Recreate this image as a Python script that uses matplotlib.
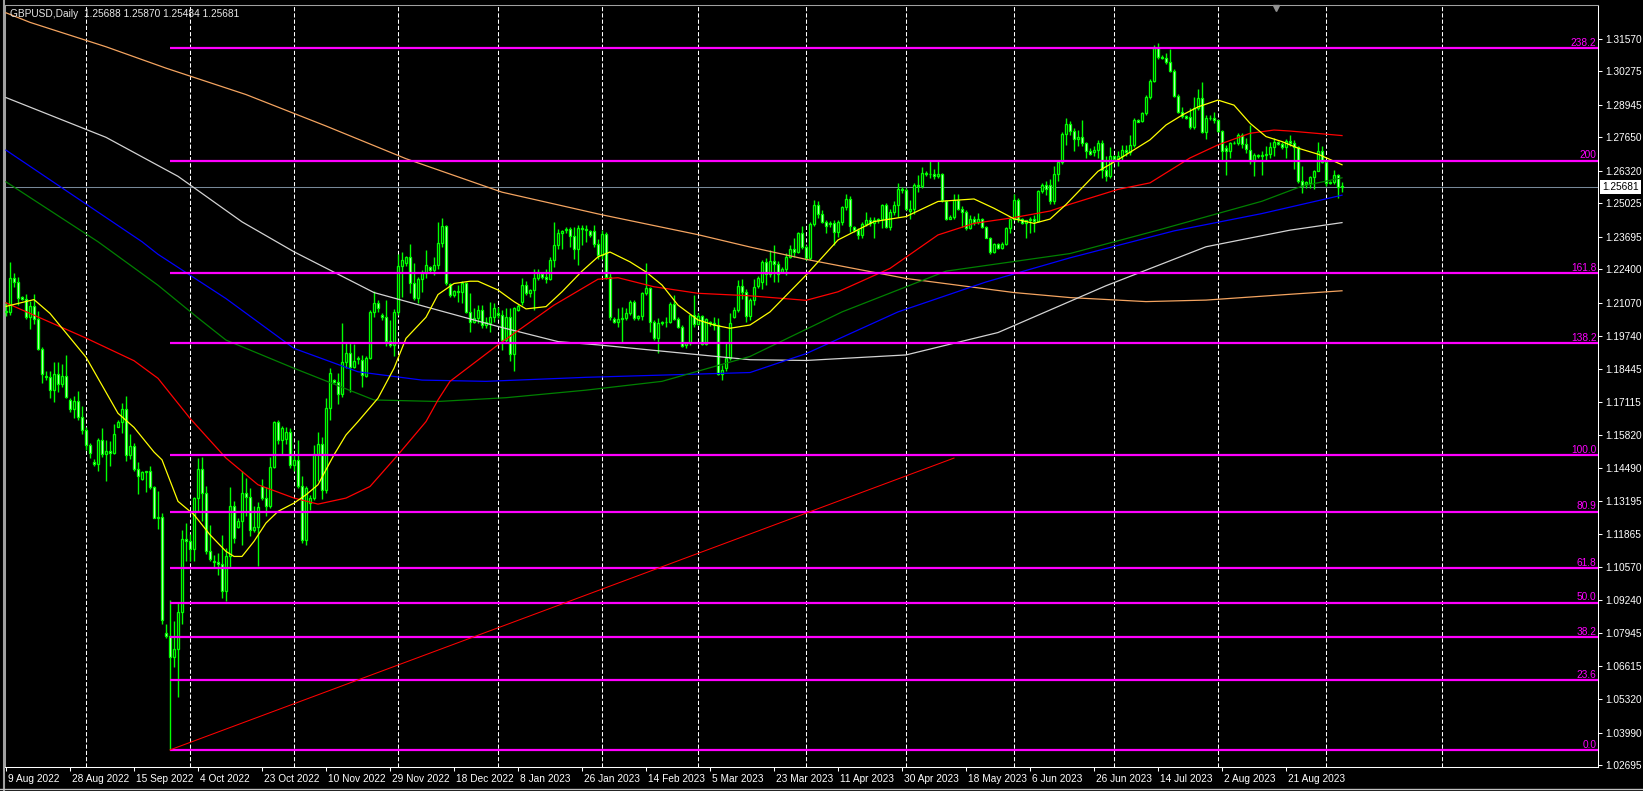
import matplotlib
matplotlib.use("Agg")
import matplotlib.pyplot as plt
import matplotlib.transforms as mtransforms
from matplotlib.lines import Line2D
import numpy as np
import pandas as pd

# GBPUSD daily, broker with Sunday bars, first bar 9 Aug 2022
opens = [
    1.2075, 1.2072, 1.2207, 1.2190, 1.2132, 1.2123, 1.2051, 1.2093, 1.2041, 1.1925,
    1.1817, 1.1811, 1.1761, 1.1825, 1.1783, 1.1817, 1.1722, 1.1685, 1.1715, 1.1654,
    1.1600, 1.1542, 1.1473, 1.1466, 1.1563, 1.1508, 1.1519, 1.1510, 1.1615, 1.1633,
    1.1686, 1.1501, 1.1538, 1.1448, 1.1406, 1.1434, 1.1438, 1.1375, 1.1253, 1.1257,
    1.0793, 1.0783, 1.0700, 1.0733, 1.0880, 1.1168, 1.1160, 1.1130, 1.1333, 1.1447,
    1.1350, 1.1119, 1.1082, 1.1075, 1.1068, 1.0960, 1.1099, 1.1298, 1.1218, 1.1238,
    1.1350, 1.1337, 1.1205, 1.1218, 1.1380, 1.1333, 1.1298, 1.1453, 1.1635, 1.1560,
    1.1565, 1.1593, 1.1463, 1.1483, 1.1380, 1.1166, 1.1310, 1.1331, 1.1507, 1.1545,
    1.1364, 1.1688, 1.1800, 1.1794, 1.1744, 1.1873, 1.1909, 1.1851, 1.1884, 1.1880,
    1.1818, 1.1886, 1.2072, 1.2107, 1.2060, 1.2050, 1.1955, 1.1940, 1.2072, 1.2253,
    1.2265, 1.2290, 1.2184, 1.2125, 1.2201, 1.2224, 1.2250, 1.2238, 1.2259, 1.2346,
    1.2411, 1.2180, 1.2138, 1.2155, 1.2150, 1.2184, 1.2072, 1.2032, 1.2046, 1.2079,
    1.2019, 1.2025, 1.2052, 1.2065, 1.2059, 1.1960, 1.2052, 1.1903, 1.2080, 1.2112,
    1.2178, 1.2145, 1.2158, 1.2207, 1.2220, 1.2210, 1.2201, 1.2276, 1.2336, 1.2385,
    1.2395, 1.2399, 1.2371, 1.2323, 1.2406, 1.2402, 1.2393, 1.2393, 1.2342, 1.2299,
    1.2379, 1.2210, 1.2042, 1.2030, 1.2042, 1.2046, 1.2065, 1.2112, 1.2048, 1.2056,
    1.2147, 1.2168, 1.2032, 1.1966, 1.2026, 1.2032, 1.2030, 1.2102, 1.2042, 1.2013,
    1.1940, 1.1947, 1.2059, 1.2022, 1.2056, 1.1943, 1.2030, 1.2026, 1.2019, 1.1824,
    1.1848, 1.1887, 1.2052, 1.2079, 1.2174, 1.2150, 1.2055, 1.2118, 1.2174, 1.2190,
    1.2270, 1.2220, 1.2273, 1.2262, 1.2230, 1.2240, 1.2290, 1.2323, 1.2310, 1.2383,
    1.2330, 1.2285, 1.2419, 1.2494, 1.2460, 1.2430, 1.2420, 1.2425, 1.2390, 1.2428,
    1.2488, 1.2521, 1.2410, 1.2395, 1.2375, 1.2419, 1.2437, 1.2425, 1.2437, 1.2440,
    1.2494, 1.2410, 1.2467, 1.2494, 1.2560, 1.2554, 1.2473, 1.2482, 1.2576, 1.2570,
    1.2625, 1.2618, 1.2620, 1.2610, 1.2620, 1.2510, 1.2441, 1.2450, 1.2516, 1.2480,
    1.2470, 1.2405, 1.2440, 1.2430, 1.2440, 1.2410, 1.2366, 1.2310, 1.2340, 1.2325,
    1.2340, 1.2403, 1.2441, 1.2516, 1.2440, 1.2425, 1.2435, 1.2440, 1.2432, 1.2552,
    1.2574, 1.2575, 1.2510, 1.2620, 1.2666, 1.2778, 1.2818, 1.2790, 1.2760, 1.2765,
    1.2742, 1.2711, 1.2705, 1.2715, 1.2744, 1.2636, 1.2610, 1.2689, 1.2680, 1.2692,
    1.2715, 1.2705, 1.2735, 1.2834, 1.2830, 1.2860, 1.2926, 1.2988, 1.3119, 1.3083,
    1.3080, 1.3065, 1.3027, 1.2930, 1.2864, 1.2850, 1.2845, 1.2808, 1.2880, 1.2922,
    1.2788, 1.2843, 1.2840, 1.2832, 1.2790, 1.2724, 1.2711, 1.2744, 1.2742, 1.2774,
    1.2738, 1.2715, 1.2670, 1.2693, 1.2689, 1.2696, 1.2700, 1.2725, 1.2748, 1.2740,
    1.2728, 1.2750, 1.2744, 1.2725, 1.2590, 1.2578, 1.2585, 1.2606, 1.2633, 1.2709,
    1.2667, 1.2584, 1.2588, 1.2617, 1.25688,
]
highs = [
    1.2110, 1.2271, 1.2225, 1.2211, 1.2135, 1.2141, 1.2114, 1.2141, 1.2076, 1.1932,
    1.1835, 1.1835, 1.1873, 1.1870, 1.1863, 1.1898, 1.1728, 1.1737, 1.1758, 1.1696,
    1.1615, 1.1549, 1.1487, 1.1570, 1.1608, 1.1563, 1.1556, 1.1626, 1.1643, 1.1707,
    1.1735, 1.1587, 1.1549, 1.1475, 1.1438, 1.1440, 1.1459, 1.1378, 1.1361, 1.1271,
    1.0832, 1.0927, 1.0843, 1.0915, 1.1205, 1.1232, 1.1189, 1.1336, 1.1490, 1.1494,
    1.1380, 1.1222, 1.1106, 1.1113, 1.1185, 1.1133, 1.1377, 1.1318, 1.1251, 1.1437,
    1.1410, 1.1370, 1.1298, 1.1314, 1.1406, 1.1377, 1.1496, 1.1638, 1.1642, 1.1619,
    1.1615, 1.1609, 1.1503, 1.1562, 1.1417, 1.1380, 1.1344, 1.1540, 1.1595, 1.1575,
    1.1728, 1.1847, 1.1804, 1.1827, 1.2025, 1.1946, 1.1953, 1.1942, 1.1895, 1.1900,
    1.1895, 1.2078, 1.2153, 1.2118, 1.2065, 1.2118, 1.2039, 1.2083, 1.2303, 1.2310,
    1.2295, 1.2339, 1.2264, 1.2211, 1.2237, 1.2316, 1.2255, 1.2290, 1.2428, 1.2444,
    1.2415, 1.2184, 1.2160, 1.2178, 1.2193, 1.2191, 1.2145, 1.2085, 1.2098, 1.2098,
    1.2052, 1.2112, 1.2105, 1.2092, 1.2079, 1.2085, 1.2085, 1.2092, 1.2101, 1.2207,
    1.2193, 1.2164, 1.2241, 1.2243, 1.2230, 1.2243, 1.2290, 1.2428, 1.2402, 1.2395,
    1.2408, 1.2408, 1.2408, 1.2415, 1.2415, 1.2415, 1.2398, 1.2415, 1.2362, 1.2395,
    1.2388, 1.2225, 1.2050, 1.2085, 1.2092, 1.2085, 1.2118, 1.2118, 1.2058, 1.2151,
    1.2266, 1.2171, 1.2039, 1.2046, 1.2036, 1.2050, 1.2112, 1.2138, 1.2052, 1.2019,
    1.1953, 1.2061, 1.2138, 1.2065, 1.2060, 1.2046, 1.2035, 1.2050, 1.2046, 1.1861,
    1.1947, 1.2066, 1.2092, 1.2197, 1.2203, 1.2164, 1.2125, 1.2203, 1.2215, 1.2277,
    1.2284, 1.2317, 1.2337, 1.2273, 1.2250, 1.2307, 1.2337, 1.2363, 1.2390, 1.2414,
    1.2337, 1.2430, 1.2516, 1.2510, 1.2477, 1.2437, 1.2432, 1.2437, 1.2437, 1.2493,
    1.2539, 1.2530, 1.2412, 1.2403, 1.2430, 1.2470, 1.2450, 1.2450, 1.2445, 1.2500,
    1.2503, 1.2480, 1.2510, 1.2583, 1.2566, 1.2563, 1.2515, 1.2583, 1.2616, 1.2649,
    1.2632, 1.2669, 1.2640, 1.2676, 1.2623, 1.2515, 1.2455, 1.2539, 1.2540, 1.2492,
    1.2476, 1.2457, 1.2452, 1.2465, 1.2446, 1.2414, 1.2370, 1.2343, 1.2345, 1.2350,
    1.2410, 1.2450, 1.2539, 1.2523, 1.2444, 1.2437, 1.2450, 1.2457, 1.2556, 1.2583,
    1.2590, 1.2600, 1.2650, 1.2674, 1.2788, 1.2840, 1.2830, 1.2801, 1.2794, 1.2834,
    1.2748, 1.2722, 1.2730, 1.2755, 1.2755, 1.2689, 1.2725, 1.2695, 1.2709, 1.2735,
    1.2735, 1.2775, 1.2840, 1.2838, 1.2867, 1.2932, 1.2995, 1.3132, 1.3140, 1.3092,
    1.3101, 1.3116, 1.3035, 1.2939, 1.2886, 1.2854, 1.2880, 1.2926, 1.2957, 1.2985,
    1.2853, 1.2853, 1.2864, 1.2834, 1.2794, 1.2735, 1.2748, 1.2752, 1.2781, 1.2781,
    1.2761, 1.2814, 1.2702, 1.2698, 1.2709, 1.2729, 1.2748, 1.2761, 1.2752, 1.2745,
    1.2759, 1.2775, 1.2755, 1.2731, 1.2650, 1.2593, 1.2610, 1.2637, 1.2746, 1.2729,
    1.2669, 1.2590, 1.2636, 1.2620, 1.25870,
]
lows = [
    1.2053, 1.2058, 1.2169, 1.2100, 1.2118, 1.2044, 1.2002, 1.2023, 1.1918, 1.1790,
    1.1800, 1.1730, 1.1712, 1.1751, 1.1772, 1.1730, 1.1672, 1.1650, 1.1640, 1.1587,
    1.1521, 1.1489, 1.1459, 1.1438, 1.1494, 1.1399, 1.1459, 1.1508, 1.1612, 1.1591,
    1.1480, 1.1487, 1.1438, 1.1347, 1.1403, 1.1354, 1.1368, 1.1250, 1.1208, 1.0832,
    1.0776, 1.0330, 1.0658, 1.0539, 1.0830, 1.1079, 1.1082, 1.1082, 1.1281, 1.1238,
    1.1110, 1.1082, 1.1053, 1.1027, 1.0934, 1.0921, 1.1053, 1.1152, 1.1212, 1.1146,
    1.1258, 1.1179, 1.1198, 1.1060, 1.1325, 1.1258, 1.1291, 1.1450, 1.1545, 1.1503,
    1.1545, 1.1450, 1.1437, 1.1371, 1.1153, 1.1143, 1.1285, 1.1325, 1.1397, 1.1328,
    1.1351, 1.1642, 1.1790, 1.1704, 1.1734, 1.1847, 1.1754, 1.1847, 1.1865, 1.1771,
    1.1814, 1.1882, 1.2052, 1.2072, 1.2040, 1.1935, 1.1933, 1.1895, 1.2058, 1.2131,
    1.2255, 1.2145, 1.2119, 1.2108, 1.2151, 1.2205, 1.2228, 1.2217, 1.2243, 1.2331,
    1.2177, 1.2131, 1.2130, 1.2112, 1.2105, 1.2065, 1.1993, 1.2026, 1.2026, 1.2006,
    1.2006, 1.1993, 1.2032, 1.2046, 1.1920, 1.1953, 1.1874, 1.1835, 1.2075, 1.2098,
    1.2138, 1.2131, 1.2079, 1.2197, 1.2200, 1.2184, 1.2197, 1.2250, 1.2323, 1.2323,
    1.2385, 1.2329, 1.2283, 1.2257, 1.2336, 1.2349, 1.2370, 1.2329, 1.2283, 1.2283,
    1.2200, 1.2040, 1.2025, 1.2013, 1.1953, 1.2039, 1.2059, 1.2039, 1.2040, 1.2039,
    1.2140, 1.1990, 1.1960, 1.1907, 1.2020, 1.2010, 1.2026, 1.2039, 1.2006, 1.1930,
    1.1927, 1.1940, 1.2013, 1.2019, 1.1940, 1.1940, 1.2015, 1.2000, 1.1821, 1.1802,
    1.1835, 1.1881, 1.2046, 1.2072, 1.2124, 1.2030, 1.2040, 1.2100, 1.2165, 1.2164,
    1.2177, 1.2210, 1.2190, 1.2191, 1.2225, 1.2217, 1.2284, 1.2290, 1.2304, 1.2321,
    1.2277, 1.2277, 1.2414, 1.2443, 1.2423, 1.2384, 1.2410, 1.2337, 1.2370, 1.2417,
    1.2478, 1.2390, 1.2390, 1.2361, 1.2363, 1.2414, 1.2414, 1.2363, 1.2425, 1.2405,
    1.2403, 1.2398, 1.2457, 1.2450, 1.2545, 1.2477, 1.2440, 1.2460, 1.2549, 1.2565,
    1.2612, 1.2603, 1.2600, 1.2603, 1.2509, 1.2437, 1.2440, 1.2441, 1.2477, 1.2410,
    1.2397, 1.2400, 1.2418, 1.2420, 1.2403, 1.2363, 1.2300, 1.2306, 1.2320, 1.2320,
    1.2337, 1.2383, 1.2437, 1.2430, 1.2420, 1.2363, 1.2383, 1.2390, 1.2428, 1.2543,
    1.2536, 1.2500, 1.2500, 1.2590, 1.2660, 1.2735, 1.2775, 1.2709, 1.2729, 1.2729,
    1.2683, 1.2696, 1.2690, 1.2683, 1.2604, 1.2590, 1.2604, 1.2675, 1.2650, 1.2676,
    1.2689, 1.2693, 1.2728, 1.2824, 1.2825, 1.2853, 1.2919, 1.2985, 1.3077, 1.3075,
    1.3057, 1.3024, 1.2926, 1.2860, 1.2843, 1.2838, 1.2800, 1.2800, 1.2873, 1.2781,
    1.2759, 1.2834, 1.2820, 1.2788, 1.2676, 1.2617, 1.2683, 1.2738, 1.2735, 1.2722,
    1.2702, 1.2660, 1.2610, 1.2683, 1.2615, 1.2672, 1.2683, 1.2689, 1.2735, 1.2720,
    1.2683, 1.2729, 1.2640, 1.2584, 1.2545, 1.2564, 1.2564, 1.2558, 1.2630, 1.2663,
    1.2571, 1.2580, 1.2578, 1.2525, 1.25484,
]
closes = [
    1.2072, 1.2207, 1.2190, 1.2127, 1.2123, 1.2051, 1.2093, 1.2041, 1.1925, 1.1825,
    1.1811, 1.1761, 1.1825, 1.1783, 1.1817, 1.1733, 1.1685, 1.1715, 1.1654, 1.1600,
    1.1542, 1.1510, 1.1466, 1.1563, 1.1508, 1.1519, 1.1510, 1.1584, 1.1633, 1.1686,
    1.1501, 1.1538, 1.1448, 1.1420, 1.1434, 1.1438, 1.1375, 1.1253, 1.1257, 1.0846,
    1.0783, 1.0700, 1.0733, 1.0880, 1.1168, 1.1160, 1.1130, 1.1333, 1.1447, 1.1350,
    1.1119, 1.1090, 1.1075, 1.1068, 1.0960, 1.1099, 1.1298, 1.1172, 1.1238, 1.1350,
    1.1337, 1.1205, 1.1218, 1.1294, 1.1333, 1.1298, 1.1453, 1.1635, 1.1560, 1.1609,
    1.1593, 1.1463, 1.1483, 1.1380, 1.1166, 1.1373, 1.1331, 1.1507, 1.1545, 1.1364,
    1.1688, 1.1827, 1.1794, 1.1744, 1.1873, 1.1909, 1.1851, 1.1876, 1.1889, 1.1820,
    1.1886, 1.2072, 1.2107, 1.2088, 1.2050, 1.1955, 1.1940, 1.2072, 1.2253, 1.2276,
    1.2290, 1.2184, 1.2125, 1.2201, 1.2224, 1.2257, 1.2238, 1.2259, 1.2346, 1.2411,
    1.2184, 1.2138, 1.2155, 1.2150, 1.2184, 1.2072, 1.2032, 1.2048, 1.2079, 1.2019,
    1.2030, 1.2052, 1.2085, 1.2059, 1.1960, 1.2052, 1.1903, 1.2088, 1.2096, 1.2178,
    1.2145, 1.2158, 1.2207, 1.2230, 1.2210, 1.2201, 1.2276, 1.2336, 1.2385, 1.2391,
    1.2399, 1.2373, 1.2323, 1.2406, 1.2402, 1.2395, 1.2375, 1.2342, 1.2299, 1.2379,
    1.2210, 1.2050, 1.2030, 1.2042, 1.2046, 1.2065, 1.2112, 1.2046, 1.2056, 1.2147,
    1.2168, 1.2032, 1.1966, 1.2026, 1.2032, 1.2030, 1.2102, 1.2042, 1.2013, 1.1937,
    1.1947, 1.2059, 1.2022, 1.2056, 1.1943, 1.2042, 1.2026, 1.2019, 1.1824, 1.1840,
    1.1887, 1.2026, 1.2079, 1.2174, 1.2150, 1.2055, 1.2118, 1.2170, 1.2205, 1.2270,
    1.2220, 1.2273, 1.2262, 1.2220, 1.2240, 1.2290, 1.2323, 1.2310, 1.2383, 1.2330,
    1.2285, 1.2419, 1.2494, 1.2460, 1.2430, 1.2412, 1.2425, 1.2390, 1.2428, 1.2488,
    1.2521, 1.2412, 1.2395, 1.2375, 1.2419, 1.2437, 1.2425, 1.2437, 1.2440, 1.2494,
    1.2410, 1.2467, 1.2494, 1.2560, 1.2554, 1.2480, 1.2482, 1.2576, 1.2570, 1.2625,
    1.2618, 1.2620, 1.2610, 1.2620, 1.2516, 1.2441, 1.2450, 1.2516, 1.2480, 1.2470,
    1.2405, 1.2440, 1.2430, 1.2440, 1.2410, 1.2366, 1.2310, 1.2340, 1.2325, 1.2340,
    1.2403, 1.2441, 1.2516, 1.2440, 1.2425, 1.2435, 1.2440, 1.2432, 1.2552, 1.2574,
    1.2560, 1.2510, 1.2620, 1.2666, 1.2778, 1.2818, 1.2790, 1.2760, 1.2765, 1.2742,
    1.2711, 1.2700, 1.2715, 1.2744, 1.2636, 1.2610, 1.2689, 1.2680, 1.2692, 1.2715,
    1.2705, 1.2735, 1.2834, 1.2826, 1.2860, 1.2926, 1.2988, 1.3119, 1.3083, 1.3080,
    1.3065, 1.3027, 1.2930, 1.2864, 1.2850, 1.2840, 1.2808, 1.2880, 1.2922, 1.2788,
    1.2843, 1.2840, 1.2832, 1.2790, 1.2711, 1.2711, 1.2744, 1.2742, 1.2774, 1.2738,
    1.2720, 1.2670, 1.2693, 1.2689, 1.2696, 1.2700, 1.2725, 1.2748, 1.2740, 1.2728,
    1.2750, 1.2744, 1.2725, 1.2590, 1.2572, 1.2588, 1.2606, 1.2633, 1.2709, 1.2667,
    1.2584, 1.2588, 1.2617, 1.2569, 1.25681,
]

# moving averages (bar index, price)
ma_yellow_bars = [0, 7, 11, 20, 28, 32, 37, 39, 43, 47, 51, 55, 57, 59, 62, 65, 68, 72, 75, 78,
                  82, 85, 88, 93, 97, 100, 105, 108, 112, 116, 118, 123, 127, 130, 135, 139, 144,
                  148, 151, 156, 160, 164, 168, 173, 177, 181, 186, 191, 200, 208, 217, 225, 233,
                  242, 247, 252, 257, 261, 265, 269, 273, 278, 286, 290, 294, 298, 303, 307, 311,
                  315, 319, 323, 328, 334]
ma_yellow = [1.2093, 1.2120, 1.2065, 1.1891, 1.1668, 1.1612, 1.1514, 1.1483, 1.1318, 1.1265,
             1.1185, 1.1119, 1.1099, 1.1099, 1.1159, 1.1232, 1.1278, 1.1311, 1.1344, 1.1384,
             1.1503, 1.1582, 1.1635, 1.1728, 1.1847, 1.1966, 1.2050, 1.2140, 1.2184, 1.2193,
             1.2193, 1.2158, 1.2112, 1.2083, 1.2092, 1.2151, 1.2233, 1.2290, 1.2309, 1.2270,
             1.2230, 1.2178, 1.2098, 1.2039, 1.2019, 1.2006, 1.2019, 1.2071, 1.2217, 1.2357,
             1.2430, 1.2450, 1.2510, 1.2520, 1.2483, 1.2441, 1.2423, 1.2440, 1.2498, 1.2564,
             1.2630, 1.2676, 1.2755, 1.2814, 1.2853, 1.2886, 1.2913, 1.2893, 1.2821, 1.2768,
             1.2748, 1.2722, 1.2698, 1.2656]
ma_red_bars = [0, 8, 20, 32, 38, 46, 55, 63, 72, 78, 85, 91, 98, 105, 108, 111, 123, 137, 148,
               153, 162, 173, 186, 200, 208, 221, 233, 242, 252, 261, 266, 278, 286, 296, 303,
               311, 317, 321, 334]
ma_red = [1.2107, 1.2051, 1.1967, 1.1877, 1.1807, 1.1648, 1.1490, 1.1384, 1.1331, 1.1307,
          1.1331, 1.1377, 1.1503, 1.1635, 1.1721, 1.1795, 1.1940, 1.2098, 1.2201, 1.2207,
          1.2171, 1.2145, 1.2135, 1.2117, 1.2151, 1.2244, 1.2377, 1.2423, 1.2446, 1.2472,
          1.2499, 1.2558, 1.2584, 1.2683, 1.2735, 1.2781, 1.2794, 1.2790, 1.2772]
ma_green_bars = [0, 23, 38, 48, 55, 72, 92, 108, 125, 145, 164, 186, 209, 235, 266, 288, 314, 324, 334]
ma_green = [1.2588, 1.2350, 1.2177, 1.2047, 1.1959, 1.1847, 1.1721, 1.1715, 1.1730, 1.1760,
            1.1795, 1.1894, 1.2071, 1.2233, 1.2303, 1.2396, 1.2511, 1.2571, 1.2604]
ma_blue_bars = [0, 34, 38, 55, 72, 88, 104, 120, 145, 173, 186, 200, 223, 245, 266, 292, 314, 334]
ma_blue = [1.2714, 1.2350, 1.2300, 1.2124, 1.1926, 1.1833, 1.1800, 1.1795, 1.1811, 1.1824,
           1.1830, 1.1905, 1.2071, 1.2190, 1.2286, 1.2393, 1.2462, 1.2535]
ma_white_bars = [0, 25, 43, 59, 72, 92, 108, 123, 138, 148, 173, 186, 200, 225, 248, 275, 300, 321, 334]
ma_white = [1.2923, 1.2765, 1.2610, 1.2429, 1.2310, 1.2148, 1.2078, 1.2013, 1.1953, 1.1940,
            1.1901, 1.1881, 1.1878, 1.1900, 1.1989, 1.2175, 1.2330, 1.2396, 1.2426]
ma_sand_bars = [0, 6, 25, 40, 60, 80, 100, 124, 149, 173, 186, 200, 225, 252, 266, 285, 300, 320, 334]
ma_sand = [1.3260, 1.3222, 1.3125, 1.3040, 1.2935, 1.2810, 1.2680, 1.2547, 1.2457, 1.2378,
           1.2329, 1.2280, 1.2204, 1.2148, 1.2128, 1.2112, 1.2118, 1.2140, 1.2155]

# fibonacci expansion anchored at the September low
fib_levels = [0.0, 23.6, 38.2, 50.0, 61.8, 80.9, 100.0, 138.2, 161.8, 200.0, 238.2]
fib_texts = ["0.0", "23.6", "38.2", "50.0", "61.8", "80.9", "100.0", "138.2", "161.8", "200", "238.2"]
fib_low = 1.0330
fib_high = 1.1501
fib_bar = 41

trend_bars = [41, 237]
trend_prices = [1.0330, 1.1490]

yticks = ["1.31570", "1.30275", "1.28945", "1.27650", "1.26320", "1.25025", "1.23695", "1.22400",
          "1.21070", "1.19740", "1.18445", "1.17115", "1.15820", "1.14490", "1.13195", "1.11865",
          "1.10570", "1.09240", "1.07945", "1.06615", "1.05320", "1.03990", "1.02695"]

holidays = ["2022-12-25", "2023-01-01", "2023-06-18"]

plt.rcParams['font.family'] = ['Liberation Sans', 'DejaVu Sans']
plt.rcParams['lines.scale_dashes'] = False

n = len(closes)
days = pd.bdate_range("2022-08-09", periods=n, freq="C",
                      weekmask="Sun Mon Tue Wed Thu Fri", holidays=holidays)
xmax = 398
# future part of the time scale runs one calendar day per bar
future = pd.date_range(days[-1], periods=xmax - n + 2, freq="D")[1:]
alldays = list(days) + list(future)
month_bars = [i for i in range(1, len(alldays)) if alldays[i].month != alldays[i - 1].month]
month_bars = [b for b in month_bars if b < 370]

W, H = 1643, 791
fig = plt.figure(figsize=(W / 100, H / 100), dpi=100, facecolor="black")
ax = fig.add_axes([5 / W, 1 - 767 / H, 1593 / W, 762 / H])
ax.set_facecolor("black")
ymin, ymax = 1.0262, 1.3291
ax.set_xlim(-0.25, xmax)
ax.set_ylim(ymin, ymax)

ax.vlines(month_bars, ymin, ymax, colors="white", lw=0.75,
          linestyles=(0, (3, 1.5)), zorder=1)
ax.axhline(closes[-1], color="#778899", lw=0.75, zorder=2)

o = np.array(opens)
h = np.array(highs)
l = np.array(lows)
c = np.array(closes)
x = np.arange(n)
ax.vlines(x, l, h, colors="#00ff00", lw=1.0, zorder=3)
fill = np.where(c >= o, "black", "white")
ax.bar(x, np.maximum(np.abs(c - o), 0.0002), width=0.5, bottom=np.minimum(o, c),
       color=fill, edgecolor="#00ff00", linewidth=0.95, zorder=4)

ax.plot(ma_sand_bars, ma_sand, color="#f4a460", lw=0.9, zorder=5)
ax.plot(ma_white_bars, ma_white, color="#d3d3d3", lw=0.9, zorder=5)
ax.plot(ma_blue_bars, ma_blue, color="#0000ff", lw=0.9, zorder=5)
ax.plot(ma_green_bars, ma_green, color="#008000", lw=0.9, zorder=5)
ax.plot(ma_red_bars, ma_red, color="#ff0000", lw=0.9, zorder=5)
ax.plot(ma_yellow_bars, ma_yellow, color="#ffff00", lw=0.9, zorder=5)

fib_prices = [fib_low + lv / 100 * (fib_high - fib_low) for lv in fib_levels]
ax.hlines(fib_prices, fib_bar, xmax, colors="#ff00ff", lw=1.6, zorder=6)
for p, t in zip(fib_prices, fib_texts):
    ax.text(397.6, p + 0.0009, t, color="#ff00ff", fontsize=7.3,
            ha="right", va="baseline", zorder=7)
ax.plot(trend_bars, trend_prices, color="#ff0000", lw=0.75, zorder=6)

# price scale on the right
ax.yaxis.tick_right()
ax.set_yticks([float(t) for t in yticks])
ax.set_yticklabels(yticks)
ax.tick_params(axis="y", colors="white", labelsize=7.3, length=3, width=0.75, pad=2)

label_bars = list(range(0, n, 16))
ax.set_xticks(label_bars)
ax.set_xticklabels([f"{days[i].day} {days[i]:%b %Y}" for i in label_bars])
ax.tick_params(axis="x", colors="white", labelsize=7.3, length=3, width=0.75, pad=2)
shift = mtransforms.ScaledTranslation(2 / 100, 0, fig.dpi_scale_trans)
for lab in ax.get_xticklabels():
    lab.set_ha("left")
    lab.set_transform(lab.get_transform() + shift)

for s in ["top", "left"]:
    ax.spines[s].set_color("#a0a0a0")
for s in ["right", "bottom"]:
    ax.spines[s].set_color("white")
for s in ax.spines.values():
    s.set_linewidth(0.75)

ax.annotate(f"{closes[-1]:.5f}", xy=(1, closes[-1]), xycoords=("axes fraction", "data"),
            xytext=(3, 0), textcoords="offset points", ha="left", va="center",
            fontsize=7.3, color="black", annotation_clip=False,
            bbox=dict(boxstyle="square,pad=0.2", fc="white", ec="none"))

fig.text(10 / W, 1 - 14 / H,
         f"GBPUSD,Daily  {opens[-1]:.5f} {highs[-1]:.5f} {lows[-1]:.5f} {closes[-1]:.5f}",
         color="#e8e8e8", fontsize=7.3, ha="left", va="center")

# chart shift marker and window edges
ax.plot([0.798], [0.996], marker="v", color="#909090", ms=5, transform=ax.transAxes,
        clip_on=False, zorder=8)
fig.add_artist(Line2D([3.5 / W, 3.5 / W], [0, 1], color="#a0a0a0", lw=1.5))
fig.add_artist(Line2D([0, 1], [2.5 / H, 2.5 / H], color="#c0c0c0", lw=1))

fig.savefig("out.png", dpi=100, facecolor="black")
